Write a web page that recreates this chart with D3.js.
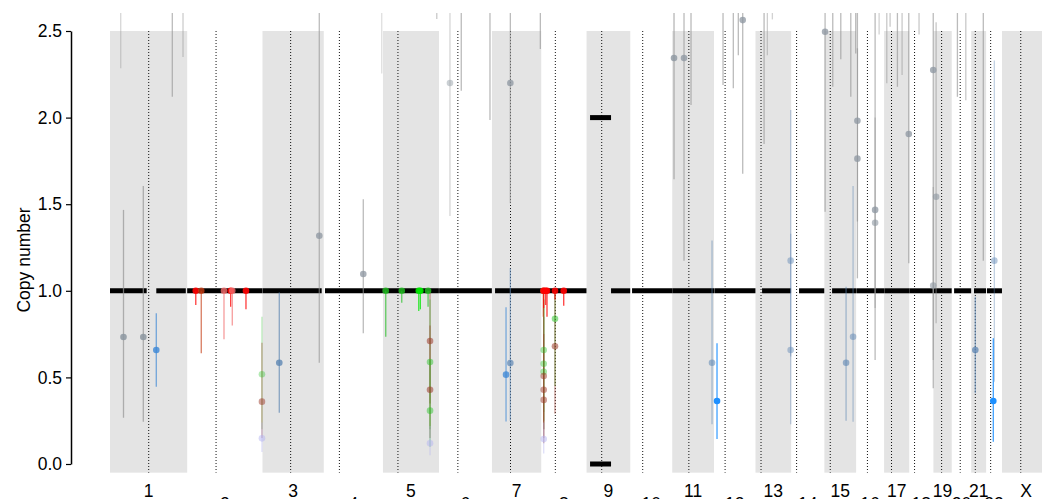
<!DOCTYPE html>
<html><head><meta charset="utf-8">
<script src="https://cdn.jsdelivr.net/npm/d3@7"></script>
<style>body{margin:0;background:#fff}svg{display:block;font-family:"Liberation Sans",Arial,sans-serif}</style>
</head><body><svg id="c" width="1042" height="499"></svg>
<script>
// ---- data ----
const chromosomes = ["1","2","3","4","5","6","7","8","9","10","11","12","13","14","15","16","17","18","19","20","21","22","X"];
const chromLengthsMb = [249.25,243.2,198.0,191.15,180.9,171.1,159.1,146.4,141.2,135.5,135.0,133.9,115.2,107.3,102.5,90.4,81.2,78.1,59.1,63.0,48.1,51.3,155.3];
const centromeresMb = [125.0,93.3,91.0,50.4,48.4,61.0,59.9,45.6,49.0,40.2,53.7,35.8,17.9,17.6,19.0,36.6,24.0,17.2,26.5,27.5,13.2,14.7,60.6];
const yTickValues = [0,0.5,1,1.5,2,2.5];
// segments: [chrom, startMb, endMb, copyNumber]
const segments = [
  ["1",0,118.5,1],["1",149.5,244.8,1],
  ["2",0,242.5,1],["3",0,191.2,1],
  ["4",3.9,191,1],["5",0.3,180.6,1],["6",0.6,170.8,1],
  ["7",10,159,1],["8",0,146.2,1],
  ["9",11.3,79.1,2],["9",11.3,79.1,0],["9",79.1,141,1],
  ["10",5.8,135.4,1],["11",0.2,135,1],["12",1,133.8,1],
  ["13",21.3,115,1],["14",25.5,107,1],["15",24.9,102.3,1],
  ["16",0.6,90.3,1],["17",0.6,81.1,1],["18",0.1,78,1],["19",0.1,59,1],
  ["20",7.7,62.9,1],["21",9.0,48,1],["22",2.9,51.2,1]
];
// markers: [chrom, posMb, copyNumber, lower, upper, group, weight]
const greyMarkers = [
  ["1",34.6,3.0,2.285,3.5,"grey",0.45],["1",43.6,0.733,0.267,1.467,"grey",0.85],
  ["1",107.6,0.733,0.244,1.605,"grey",0.85],["1",201.2,3.0,2.12,3.5,"grey",0.75],
  ["1",235.8,3.0,2.35,3.5,"grey",0.55],["3",183.5,1.318,0.585,3.5,"grey",0.75],
  ["4",127.6,1.097,0.755,1.528,"grey",0.75],["4",187.1,3.0,2.255,3.5,"grey",0.35],
  ["5",173.8,3.0,2.57,3.5,"grey",0.6],["6",35.5,2.2,1.432,3.5,"grey",0.45],
  ["6",72,3.0,2.155,3.5,"grey",0.75],["6",164.7,3.0,1.986,3.5,"grey",0.75],
  ["7",59.4,2.2,1.505,3.5,"grey",0.75],["7",156.3,3.0,2.396,3.5,"grey",0.75],
  ["11",5.8,2.344,1.644,3.5,"grey",0.8],["11",38.1,2.344,1.174,3.5,"grey",0.75],
  ["11",60.7,3.0,2.073,3.5,"grey",0.75],["12",29.1,3.0,2.188,3.5,"grey",0.75],
  ["12",62.3,3.0,2.169,3.5,"grey",0.75],["12",78.5,3.0,2.36,3.5,"grey",0.75],
  ["12",92.7,2.563,1.676,3.5,"grey",0.75],["13",27.8,3.0,1.848,3.5,"grey",0.75],
  ["13",38.4,3.0,2.36,3.5,"grey",0.55],["13",54.6,3.0,2.567,3.5,"grey",0.5],
  ["15",2.3,2.496,1.457,3.5,"grey",0.75],["15",27.1,3.0,2.178,3.5,"grey",0.75],
  ["15",53,3.0,2.337,3.5,"grey",0.75],["15",85.3,3.0,2.12,3.5,"grey",0.75],
  ["15",101.4,3.0,2.37,3.5,"grey",0.8],["16",4.2,1.982,1.40,3.5,"grey",0.75],
  ["16",4.2,1.763,1.072,2.4,"grey",0.75],["16",61.4,1.467,0.6,3.5,"grey",0.75],
  ["16",61.4,1.393,0.9,2.0,"grey",0.6],["16",74.3,3.0,2.48,3.5,"grey",0.5],
  ["17",8.7,3.0,2.198,3.5,"grey",0.6],["17",19.4,3.0,2.525,3.5,"grey",0.6],
  ["17",43,3.0,2.178,3.5,"grey",0.75],["17",58.1,3.0,2.246,3.5,"grey",0.6],
  ["17",79.7,1.905,1.159,3.5,"grey",0.75],["18",31.7,3.0,2.48,3.5,"grey",0.6],
  ["18",77.5,2.275,0.437,3.5,"grey",0.75],["18",77.5,1.03,0.6,1.6,"grey",0.6],
  ["19",8.7,1.543,0.812,2.55,"grey",0.6],["20",18.4,3.0,2.12,3.5,"grey",0.75],
  ["20",45.5,3.0,2.10,3.5,"grey",0.6],["21",39,3.0,1.174,3.5,"grey",0.75]
];
const blueMarkers = [
  ["1",149.5,0.658,0.446,0.87,"mid",0.8],["3",54.3,0.585,0.296,0.99,"steel",0.8],
  ["7",45.5,0.516,0.246,0.905,"mid",0.75],["7",59.4,0.583,0.25,1.13,"steel",0.7],
  ["11",128.6,0.585,0.229,1.29,"steel",0.55],["12",9.7,0.364,0.144,0.697,"blue",1],
  ["13",113.7,1.174,0.62,2.044,"steel",0.45],["13",113.7,0.658,0.229,1.33,"steel",0.45],
  ["15",92.7,0.735,0.244,1.605,"steel",0.5],["15",70.1,0.585,0.25,1.024,"steel",0.6],
  ["21",13.2,0.658,0.408,0.966,"steel",0.75],["22",26.5,1.174,0.475,2.329,"steel",0.45],
  ["22",23.2,0.364,0.129,0.726,"blue",1]
];
const subclonalMarkers = [
  ["2",27.8,1,0.918,1,"red",0.9],["2",45.5,1,0.64,1,"darkred",0.8],
  ["2",118.9,1,0.72,1,"salmon",0.8],["2",140.5,1,0.908,1,"red",0.9],
  ["2",145.7,1,0.80,1,"salmon",0.8],["2",189.9,1,0.893,1,"red",0.9],
  ["2",241.5,0.518,0.2,0.85,"green",0.35],["2",241.5,0.36,0.15,0.70,"brown",0.5],
  ["2",241.5,0.148,0.07,0.24,"lavender",0.5],
  ["5",9.0,1,0.735,1,"green",0.8],["5",60.7,1,0.931,1,"green",0.8],
  ["5",115.6,1,0.883,1,"lime",0.9],["5",120.8,1,0.893,1,"lime",0.9],
  ["5",145.7,1,0.908,1,"green",0.8],
  ["5",152,0.71,0.35,1,"brown",0.55],["5",152,0.589,0.2,0.95,"green",0.45],
  ["5",152,0.429,0.15,0.8,"brown",0.55],["5",152,0.308,0.1,0.6,"green",0.45],
  ["5",152,0.12,0.05,0.22,"lavender",0.5],
  ["8",8.1,0.658,0.3,1,"green",0.4],["8",8.1,0.579,0.25,0.95,"green",0.4],
  ["8",8.1,0.533,0.2,0.9,"green",0.4],["8",8.1,0.508,0.2,0.95,"brown",0.5],
  ["8",8.1,0.429,0.15,0.85,"brown",0.5],["8",8.1,0.37,0.12,0.75,"brown",0.5],
  ["8",8.1,0.144,0.06,0.24,"lavender",0.5],
  ["8",44.5,0.839,0.45,1,"green",0.5],["8",44.5,0.68,0.29,1,"brown",0.55],
  ["8",6.8,1,0.85,1,"darkred",0.8],["8",8.1,1,0.9,1,"red",0.9],
  ["8",14.5,1,0.918,1,"red",0.9],["8",18.7,1,0.85,1,"red",0.9],
  ["8",44.5,1,0.95,1,"red",0.85],["8",72.7,1,0.914,1,"red",0.9]
];

// ---- layout ----
const W = 1042, H = 499;
const svg = d3.select("#c");
const axisX = 71, panelTop = 13, bandTopVal = 2.5, bandBottomVal = -0.05;
const starts = [];
chromLengthsMb.reduce((acc, l, i) => { starts[i] = acc; return acc + l; }, 0);
const autosomeTotal = starts[22];
const x = d3.scaleLinear().domain([0, autosomeTotal]).range([110, 1002]);
const y = d3.scaleLinear().domain([0, 2.5]).range([464, 31]);
const idx = c => chromosomes.indexOf(c);
const gx = (c, p) => x(starts[idx(c)] + p);

svg.append("defs").append("clipPath").attr("id","clip")
  .append("rect").attr("x", axisX).attr("y", panelTop).attr("width", W - axisX).attr("height", 480 - panelTop);
const g = svg.append("g").attr("clip-path","url(#clip)");

// alternating bands
g.selectAll("rect.band").data(chromosomes.filter((c,i)=>i%2===0)).join("rect")
  .attr("class","band")
  .attr("x", c => x(starts[idx(c)]))
  .attr("width", c => x(starts[idx(c)] + chromLengthsMb[idx(c)]) - x(starts[idx(c)]))
  .attr("y", y(bandTopVal)).attr("height", y(bandBottomVal) - y(bandTopVal))
  .attr("fill", "#e4e4e4");

// centromere lines
g.selectAll("line.cen").data(chromosomes).join("line")
  .attr("x1", c => gx(c, centromeresMb[idx(c)])).attr("x2", c => gx(c, centromeresMb[idx(c)]))
  .attr("y1", y(bandTopVal)).attr("y2", y(bandBottomVal))
  .attr("stroke", "#111").attr("stroke-width", 1).attr("stroke-dasharray", "1,2");

// segments
g.selectAll("line.seg").data(segments).join("line")
  .attr("x1", d => gx(d[0], d[1])).attr("x2", d => gx(d[0], d[2]))
  .attr("y1", d => y(d[3])).attr("y2", d => y(d[3]))
  .attr("stroke", "#000").attr("stroke-width", 5);

const pointColor = d3.scaleOrdinal()
  .domain(["grey","steel","mid","blue","red","darkred","salmon","green","lime","brown","lavender"])
  .range(["#8c96a0","#5d86b3","#3a86d6","#1e90ff","#ff0000","#c43c14","#f26d6d","#22c022","#00e600","#9b3a2a","#b4b4f2"]);
const barColor = d3.scaleOrdinal()
  .domain(["grey","steel","mid","blue","red","darkred","salmon","green","lime","brown","lavender"])
  .range(["#959595","#5d86b3","#3a86d6","#1e90ff","#ff0000","#c43c14","#f26d6d","#22c022","#00e600","#9b3a2a","#b4b4f2"]);

const allMarkers = greyMarkers.concat(blueMarkers, subclonalMarkers);
g.selectAll("line.err").data(allMarkers).join("line")
  .attr("x1", d => gx(d[0], d[1])).attr("x2", d => gx(d[0], d[1]))
  .attr("y1", d => y(d[3])).attr("y2", d => y(d[4]))
  .attr("stroke", d => barColor(d[5])).attr("stroke-opacity", d => d[6]*0.85)
  .attr("stroke-width", 1.3);
g.selectAll("circle.pt").data(allMarkers).join("circle")
  .attr("cx", d => gx(d[0], d[1])).attr("cy", d => y(d[2])).attr("r", 3.3)
  .attr("fill", d => pointColor(d[5])).attr("fill-opacity", d => d[6]);

// y axis
const yAxis = svg.append("g").attr("transform", `translate(${axisX},0)`)
  .call(d3.axisLeft(y).tickValues(yTickValues).tickFormat(d3.format(".1f")).tickSize(5).tickPadding(4).tickSizeOuter(0));
yAxis.select(".domain").attr("stroke","#000").attr("stroke-width",1.5);
yAxis.selectAll(".tick line").attr("stroke","#000").attr("stroke-width",1.2);
yAxis.selectAll(".tick text").attr("font-size","17.5px").attr("fill","#000").attr("font-family","'Liberation Sans',Arial,sans-serif");

svg.append("text").attr("transform","translate(30,260) rotate(-90)")
  .attr("text-anchor","middle").attr("font-size","17.5px").attr("fill","#000")
  .text("Copy number");

// chromosome labels
svg.selectAll("text.chr").data(chromosomes).join("text")
  .attr("x", c => x(starts[idx(c)] + chromLengthsMb[idx(c)]/2))
  .attr("y", (c,i) => i%2===0 ? 497 : 510)
  .attr("text-anchor","middle").attr("font-size","17.5px").attr("fill","#000")
  .text(c => c);
</script></body></html>
